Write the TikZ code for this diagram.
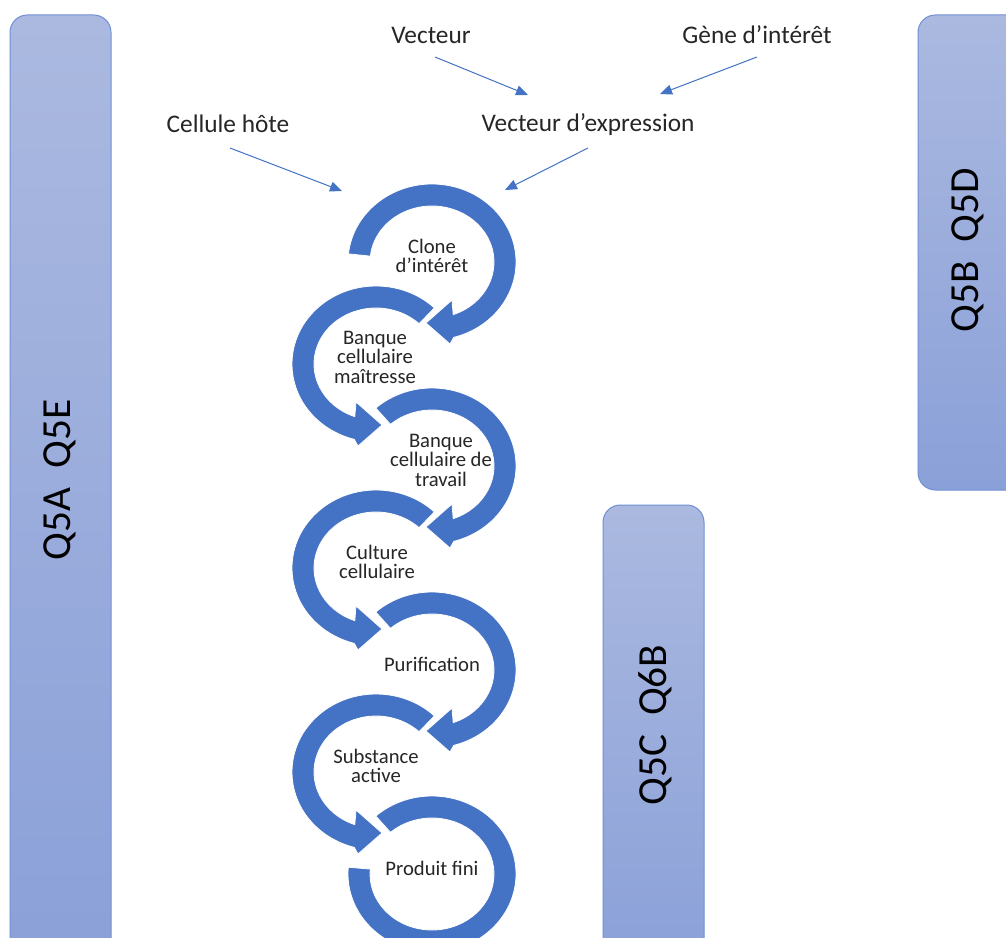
\documentclass[tikz,border=0pt]{standalone}
\usepackage{fontspec}
\setmainfont{Carlito}
\usetikzlibrary{arrows.meta,calc}
\definecolor{ringblue}{HTML}{4472C4}
\definecolor{barlight}{HTML}{ABB9E0}
\definecolor{bardark}{HTML}{8AA0D8}
\definecolor{baredge}{HTML}{7090D4}
\definecolor{txt}{HTML}{262626}

\begin{document}
\begin{tikzpicture}[x=0.75pt,y=-0.75pt,
  bar/.style={rounded corners=13pt, top color=barlight, bottom color=bardark, draw=baredge, line width=0.75pt},
  bartext/.style={rotate=90, font=\fontsize{31}{36}\selectfont, text=black},
  toplabel/.style={font=\fontsize{19}{23}\selectfont, text=txt},
  steplabel/.style={align=center, font=\fontsize{15.5}{14.6}\selectfont, text=txt},
  feed/.style={draw=ringblue, line width=0.75pt, -{Triangle[length=9pt,width=7.5pt]}},
  ring/.style={fill=ringblue, draw=white, line width=0.6pt}
]
\useasboundingbox (0,0) rectangle (1006,938);
\clip (0,0) rectangle (1006,938);
\fill[white] (0,0) rectangle (1006,938);

% side bars
\path[bar] (10,15) rectangle (111,970);
\path[bar] (918,15) rectangle (1040,490);
\path[bar] (603,505) rectangle (704,970);
\node[bartext] (barA) at (60,480) {Q5A\ \ Q5E};
\node[bartext] (barB) at (968,250) {Q5B\ \ Q5D};
\node[bartext] (barC) at (655,725) {Q5C\ \ Q6B};

% ring centres
\coordinate (c1) at (432,262);
\coordinate (c2) at (376,364);
\coordinate (c3) at (432,466);
\coordinate (c4) at (376,568);
\coordinate (c5) at (432,670);
\coordinate (c6) at (376,772);
\coordinate (c7) at (432,874);

% clockwise rings (right column) ending in an arrow head
\foreach \c/\s in {c1/186, c3/228, c5/228}{
  \fill[ring] ($(\c)+(\s:84 and 78)$)
    arc[start angle=\s, end angle=435, x radius=84, y radius=78]
    -- ($(\c)+(18,82)$) -- ($(\c)+(-6,61)$) -- ($(\c)+(20,38)$)
    -- ($(\c)+(430:62 and 56)$)
    arc[start angle=430, end angle=\s, x radius=62, y radius=56] -- cycle;
}
% counter-clockwise rings (left column) ending in an arrow head
\foreach \c in {c2, c4, c6}{
  \fill[ring] ($(\c)+(314:84 and 78)$)
    arc[start angle=314, end angle=105, x radius=84, y radius=78]
    -- ($(\c)+(-18,82)$) -- ($(\c)+(6,61)$) -- ($(\c)+(-20,38)$)
    -- ($(\c)+(110:62 and 56)$)
    arc[start angle=110, end angle=314, x radius=62, y radius=56] -- cycle;
}
% last ring, no arrow head
\fill[ring] ($(c7)+(228:84 and 78)$)
  arc[start angle=228, end angle=545, x radius=84, y radius=78]
  -- ($(c7)+(545:62 and 56)$)
  arc[start angle=545, end angle=228, x radius=62, y radius=56] -- cycle;

% step labels
\node[steplabel] (s1) at (432,256) {Clone\\d’intérêt};
\node[steplabel] (s2) at (375,357) {Banque\\cellulaire\\maîtresse};
\node[steplabel] (s3) at (441,460) {Banque\\cellulaire de\\travail};
\node[steplabel] (s4) at (377,562) {Culture\\cellulaire};
\node[steplabel] (s5) at (432,664) {Purification};
\node[steplabel] (s6) at (376,766) {Substance\\active};
\node[steplabel] (s7) at (432,868) {Produit fini};

% inputs
\node[toplabel] (vec) at (431,35) {Vecteur};
\node[toplabel] (gene) at (757,35) {Gène d’intérêt};
\node[toplabel] (hote) at (228,124) {Cellule hôte};
\node[toplabel] (vexp) at (588,125) {Vecteur d’expression};

\coordinate (vecS) at (435,57);
\coordinate (vecE) at (528,95);
\coordinate (geneS) at (757,57);
\coordinate (geneE) at (660,94);
\coordinate (hoteS) at (230,148);
\coordinate (hoteE) at (342,191);
\coordinate (vexpS) at (588,148);
\coordinate (vexpE) at (505,190);

\draw[feed] (vecS) -- (vecE);
\draw[feed] (geneS) -- (geneE);
\draw[feed] (hoteS) -- (hoteE);
\draw[feed] (vexpS) -- (vexpE);
\end{tikzpicture}
\end{document}
